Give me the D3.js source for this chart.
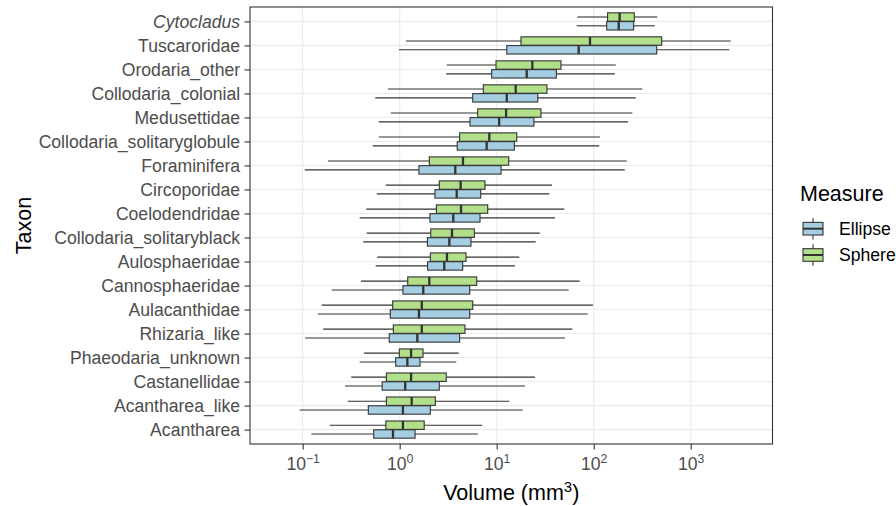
<!DOCTYPE html>
<html style="overflow:hidden;">
<head>
	<meta charset="utf-8">
	<script src="https://cdnjs.cloudflare.com/ajax/libs/d3/7.8.5/d3.min.js" charset="utf-8"></script>
	<style>
		body { margin:0; background:#fff; }
		text { font-family: "Liberation Sans", Arial, sans-serif; }
	</style>
</head>
<body>
<div id="chart"></div>
<script>
// taxa, top to bottom
var taxa = ["Cytocladus","Tuscaroridae","Orodaria_other","Collodaria_colonial","Medusettidae",
  "Collodaria_solitaryglobule","Foraminifera","Circoporidae","Coelodendridae","Collodaria_solitaryblack",
  "Aulosphaeridae","Cannosphaeridae","Aulacanthidae","Rhizaria_like","Phaeodaria_unknown",
  "Castanellidae","Acantharea_like","Acantharea"];

// Sphere volumes (mm3): whisker low, Q1, median, Q3, whisker high
var sphereLow  = [67.8, 1.16, 3.05, 0.757, 0.81, 0.61, 0.182, 0.72, 0.453, 0.457, 0.587, 0.399, 0.157, 0.163, 0.428, 0.317, 0.291, 0.19];
var sphereQ1   = [139, 17.8, 9.84, 7.28, 6.37, 4.15, 2.02, 2.56, 2.39, 2.09, 2.07, 1.21, 0.847, 0.86, 0.99, 0.73, 0.73, 0.72];
var sphereMed  = [185, 91.6, 23.3, 15.7, 12.5, 8.39, 4.49, 4.25, 4.29, 3.46, 3.07, 2.02, 1.69, 1.69, 1.31, 1.31, 1.33, 1.08];
var sphereQ3   = [262, 502, 46, 33, 28.6, 16.1, 13.3, 7.57, 8.08, 5.88, 4.83, 6.22, 5.66, 4.71, 1.74, 3.02, 2.33, 1.79];
var sphereHigh = [453, 2585, 169, 317, 250, 116, 219, 37.2, 49.8, 27.8, 17.1, 71.8, 98.4, 60.2, 4.06, 24.8, 13.5, 7.11];

// Ellipse volumes (mm3)
var ellipseLow  = [66.8, 0.98, 3.02, 0.56, 0.61, 0.527, 0.105, 0.58, 0.387, 0.422, 0.566, 0.199, 0.143, 0.106, 0.387, 0.273, 0.093, 0.123];
var ellipseQ1   = [136, 12.7, 8.88, 5.66, 5.31, 3.92, 1.58, 2.31, 2.05, 1.93, 1.94, 1.08, 0.80, 0.78, 0.91, 0.66, 0.475, 0.54];
var ellipseMed  = [181, 70, 20.4, 12.7, 10.6, 7.88, 3.74, 3.87, 3.57, 3.25, 2.88, 1.75, 1.58, 1.52, 1.20, 1.14, 1.08, 0.853];
var ellipseQ3   = [258, 446, 41.2, 26.5, 24.2, 15.2, 11.1, 6.84, 6.73, 5.43, 4.46, 5.27, 5.27, 4.15, 1.62, 2.56, 2.07, 1.44];
var ellipseHigh = [425, 2500, 165, 271, 226, 114, 209, 34.9, 39.9, 25.2, 15.4, 55.2, 86.7, 50.6, 3.83, 19.6, 18.5, 6.37];

var measures = ["Ellipse", "Sphere"];
var fills = {Ellipse: "#A6CEE3", Sphere: "#B2DF8A"};
var xTicks = [0.1, 1, 10, 100, 1000];
var xExponents = ["\u22121", "0", "1", "2", "3"];

var width = 896, height = 506;
var panel = {left: 250, right: 772.5, top: 7, bottom: 444};

var svg = d3.select("#chart").append("svg")
    .attr("width", width)
    .attr("height", height);

// scales
var x = d3.scaleLog()
    .domain([Math.pow(10, -1.543), Math.pow(10, 3.843)])
    .range([panel.left, panel.right]);
var y = d3.scalePoint()
    .domain(taxa)
    .range([panel.top, panel.bottom])
    .padding(0.6);
var dodge = {Sphere: -4.4, Ellipse: 4.4};
var boxH = 8.4;

// grid
var grid = svg.append("g");
grid.selectAll(".gx").data(xTicks).enter().append("line")
    .attr("x1", function(d) { return x(d); })
    .attr("x2", function(d) { return x(d); })
    .attr("y1", panel.top).attr("y2", panel.bottom)
    .style("stroke", "#EBEBEB").style("stroke-width", 1.1);
grid.selectAll(".gy").data(taxa).enter().append("line")
    .attr("x1", panel.left).attr("x2", panel.right)
    .attr("y1", function(d) { return y(d); })
    .attr("y2", function(d) { return y(d); })
    .style("stroke", "#EBEBEB").style("stroke-width", 1.1);

// build rows for both measures
var rows = [];
taxa.forEach(function(t, i) {
  rows.push({taxon: t, m: "Sphere", lo: sphereLow[i], q1: sphereQ1[i], med: sphereMed[i], q3: sphereQ3[i], hi: sphereHigh[i]});
  rows.push({taxon: t, m: "Ellipse", lo: ellipseLow[i], q1: ellipseQ1[i], med: ellipseMed[i], q3: ellipseQ3[i], hi: ellipseHigh[i]});
});

var boxes = svg.append("g").selectAll("g").data(rows).enter().append("g");
function cy(d) { return y(d.taxon) + dodge[d.m]; }

// whiskers
boxes.append("line")
    .attr("x1", function(d) { return x(d.lo); })
    .attr("x2", function(d) { return x(d.q1); })
    .attr("y1", cy).attr("y2", cy)
    .style("stroke", "#333").style("stroke-width", 1.1);
boxes.append("line")
    .attr("x1", function(d) { return x(d.q3); })
    .attr("x2", function(d) { return x(d.hi); })
    .attr("y1", cy).attr("y2", cy)
    .style("stroke", "#333").style("stroke-width", 1.1);
// box
boxes.append("rect")
    .attr("x", function(d) { return x(d.q1); })
    .attr("width", function(d) { return x(d.q3) - x(d.q1); })
    .attr("y", function(d) { return cy(d) - boxH / 2; })
    .attr("height", boxH)
    .style("fill", function(d) { return fills[d.m]; })
    .style("stroke", "#333").style("stroke-width", 1.1);
// median
boxes.append("line")
    .attr("x1", function(d) { return x(d.med); })
    .attr("x2", function(d) { return x(d.med); })
    .attr("y1", function(d) { return cy(d) - boxH / 2; })
    .attr("y2", function(d) { return cy(d) + boxH / 2; })
    .style("stroke", "#333").style("stroke-width", 2.3);

// panel border
svg.append("rect")
    .attr("x", panel.left).attr("y", panel.top)
    .attr("width", panel.right - panel.left)
    .attr("height", panel.bottom - panel.top)
    .style("fill", "none").style("stroke", "#333").style("stroke-width", 1.1);

// x axis
var xAxis = svg.append("g")
    .attr("transform", "translate(0," + panel.bottom + ")")
    .call(d3.axisBottom(x).tickValues(xTicks).tickSize(5.5).tickFormat(""));
xAxis.select(".domain").remove();
xAxis.selectAll(".tick line").style("stroke", "#333").style("stroke-width", 1.1);
xAxis.selectAll(".tick").each(function(d, i) {
  var t = d3.select(this).append("text")
      .attr("y", 26)
      .attr("text-anchor", "middle")
      .style("fill", "#4D4D4D")
      .style("font-size", "17.6px");
  t.append("tspan").text("10");
  t.append("tspan").attr("dy", -7.5).style("font-size", "12.3px").text(xExponents[i]);
});

// y axis
var yAxis = svg.append("g")
    .attr("transform", "translate(" + panel.left + ",0)")
    .call(d3.axisLeft(y).tickSize(5.5).tickPadding(4.4));
yAxis.select(".domain").remove();
yAxis.selectAll(".tick line").style("stroke", "#333").style("stroke-width", 1.1);
yAxis.selectAll(".tick text")
    .style("fill", "#4D4D4D")
    .style("font-size", "17.6px")
    .style("font-family", "'Liberation Sans', Arial, sans-serif")
    .style("font-style", function(d) { return d === "Cytocladus" ? "italic" : "normal"; });

// axis titles
var xTitle = svg.append("text")
    .attr("x", (panel.left + panel.right) / 2)
    .attr("y", 500)
    .attr("text-anchor", "middle")
    .style("font-size", "21.5px");
xTitle.append("tspan").text("Volume (mm");
xTitle.append("tspan").attr("dy", -8).style("font-size", "15px").text("3");
xTitle.append("tspan").attr("dy", 8).text(")");

svg.append("text")
    .attr("transform", "translate(31,225.5) rotate(-90)")
    .attr("text-anchor", "middle")
    .style("font-size", "21.5px")
    .text("Taxon");

// legend
var legend = svg.append("g");
legend.append("text")
    .attr("x", 800).attr("y", 201)
    .style("font-size", "21.5px")
    .text("Measure");
var keys = legend.selectAll(".key").data(measures).enter().append("g")
    .attr("transform", function(d, i) { return "translate(813," + (228.7 + i * 26.3) + ")"; });
keys.append("line")
    .attr("x1", 0).attr("x2", 0).attr("y1", -10.8).attr("y2", 10.8)
    .style("stroke", "#333").style("stroke-width", 1.1);
keys.append("rect")
    .attr("x", -10).attr("y", -6.3).attr("width", 20).attr("height", 12.6)
    .style("fill", function(d) { return fills[d]; })
    .style("stroke", "#333").style("stroke-width", 1.1);
keys.append("line")
    .attr("x1", -10).attr("x2", 10).attr("y1", 0).attr("y2", 0)
    .style("stroke", "#333").style("stroke-width", 2);
keys.append("text")
    .attr("x", 26).attr("y", 6.3)
    .style("font-size", "17.6px")
    .text(function(d) { return d; });
</script>
</body>
</html>
